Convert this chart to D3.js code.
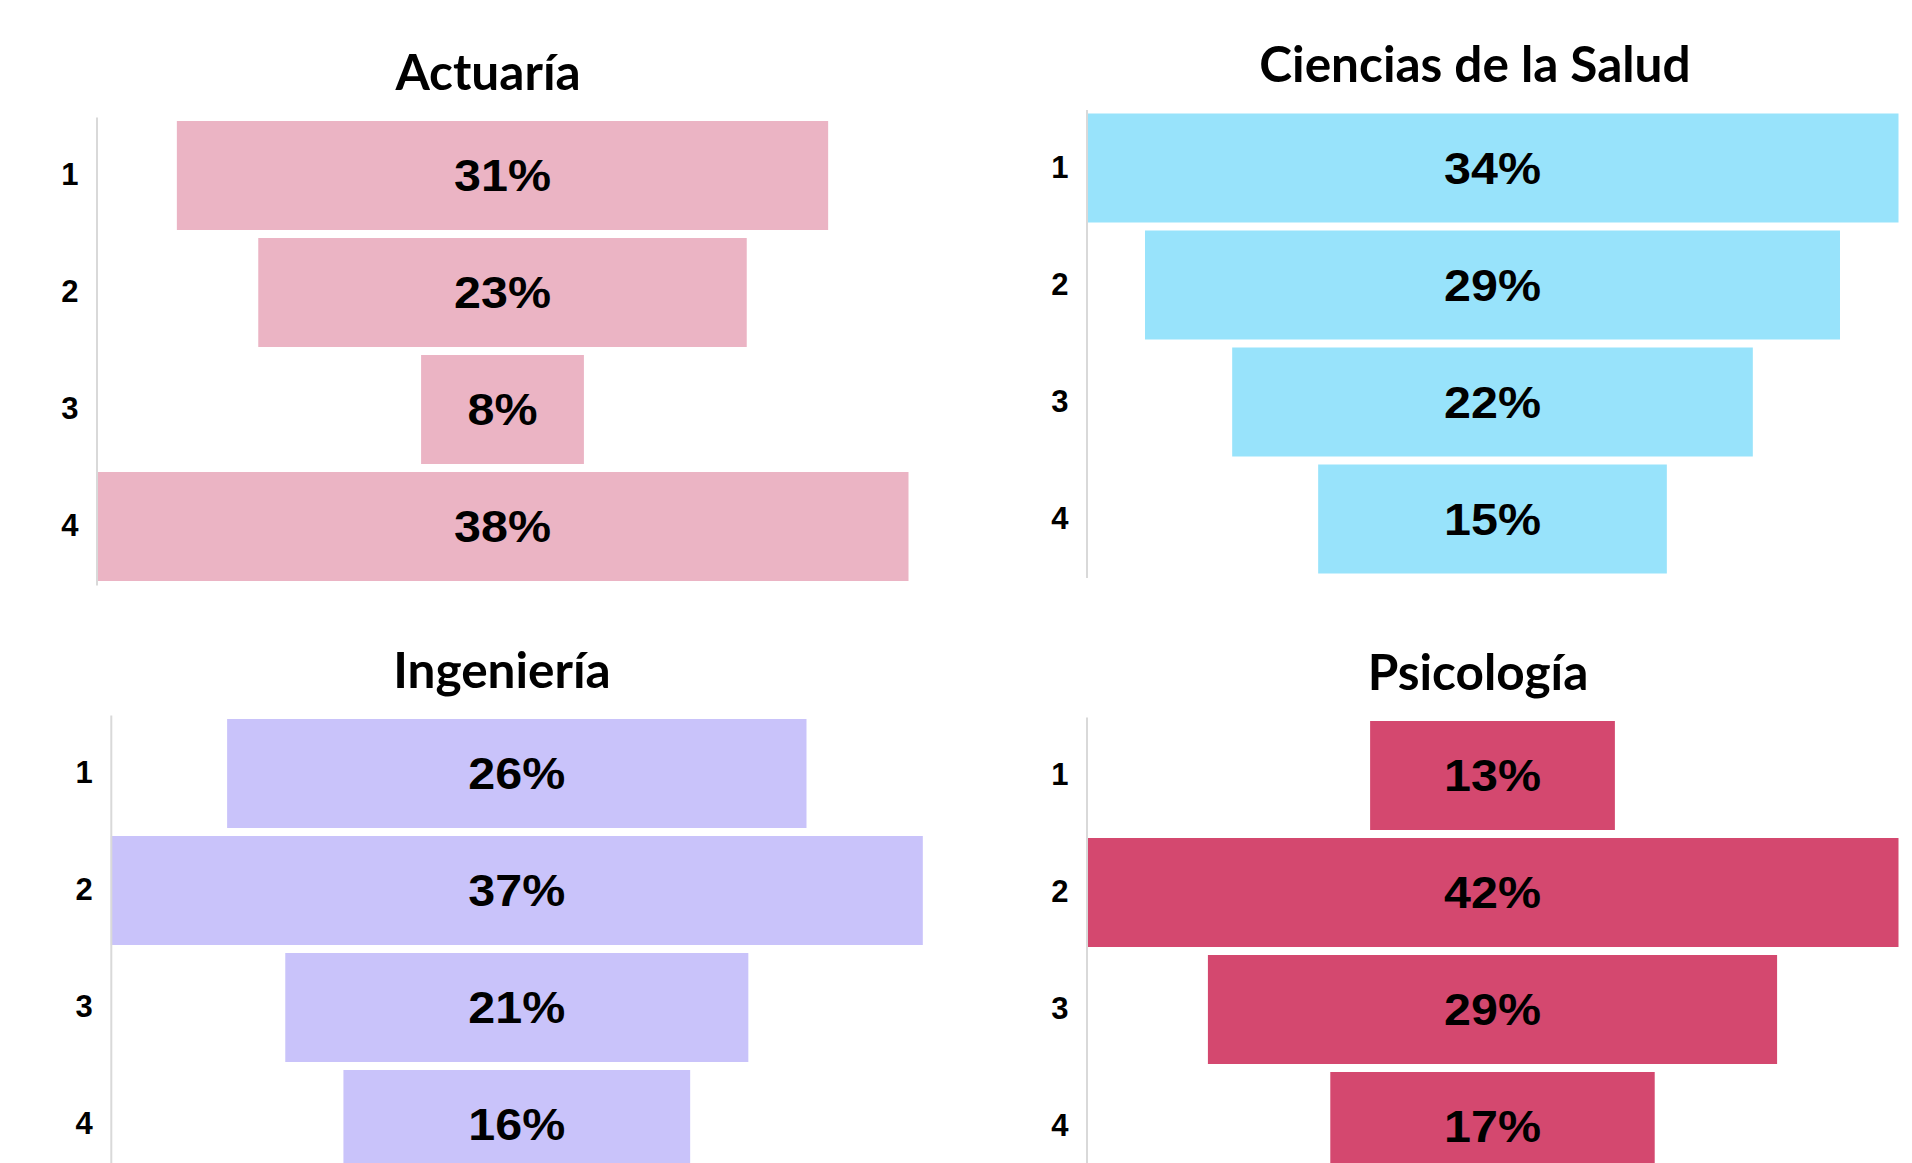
<!DOCTYPE html>
<html>
<head>
<meta charset="utf-8">
<script src="https://cdnjs.cloudflare.com/ajax/libs/d3/7.8.5/d3.min.js"></script>
<style>
  body { margin: 0; background: #fff; }
  .title { font-family: Lato, 'Open Sans', sans-serif; font-weight: 700; font-size: 49.5px; fill: #000; }
  .tick text { font-family: 'Liberation Sans', Arial, sans-serif; font-weight: 700; font-size: 31px; fill: #000; }
  .val { font-family: 'Liberation Sans', Arial, sans-serif; font-weight: 700; font-size: 44px; fill: #000; }
</style>
</head>
<body>
<div id="chart"></div>
<script>
// Funnel charts, one per career

const width = 1912
const height = 1163

// Data
const careers = ['Actuaría', 'Ciencias de la Salud', 'Ingeniería', 'Psicología']
const levels = ['1', '2', '3', '4']
const actuaria = [30.8, 23.1, 7.7, 38.4]
const salud = [34, 29.1, 21.8, 14.6]
const ingenieria = [26.4, 37, 21.1, 15.8]
const psicologia = [12.6, 41.8, 29.3, 16.7]
const palette = ['#ebb4c4', '#98e3fb', '#c9c3fa', '#d4486f']

const series = [actuaria, salud, ingenieria, psicologia]

// Where each small chart sits on the page
const layout = [
  { axisX: 96.5, top: 117, titleX: 488, titleY: 90 },
  { axisX: 1086.5, top: 109.5, titleX: 1475, titleY: 81.5 },
  { axisX: 110.8, top: 715, titleX: 502, titleY: 688 },
  { axisX: 1086.5, top: 717, titleX: 1478, titleY: 689.5 }
]
const plotW = 812
const plotH = 468

const svg = d3.select('#chart')
  .append('svg')
  .attr('width', width)
  .attr('height', height)

careers.forEach((name, k) => {
  const L = layout[k]
  const values = series[k]
  const g = svg.append('g')

  g.append('text')
    .attr('class', 'title')
    .attr('x', L.titleX)
    .attr('y', L.titleY)
    .attr('text-anchor', 'middle')
    .text(name)

  const x = d3.scaleLinear()
    .domain([0, d3.max(values)])
    .range([0, plotW])

  const y = d3.scaleBand()
    .domain(levels)
    .range([L.top, L.top + plotH])
    .paddingInner(0.0684)
    .paddingOuter(0.0342)

  const cx = L.axisX + plotW / 2

  g.selectAll('rect')
    .data(values)
    .enter().append('rect')
    .attr('x', d => cx - x(d) / 2)
    .attr('y', (d, i) => y(levels[i]))
    .attr('width', d => x(d))
    .attr('height', y.bandwidth())
    .attr('fill', palette[k])

  // value labels, slightly widened like the original
  g.selectAll('.val')
    .data(values)
    .enter().append('text')
    .attr('class', 'val')
    .attr('transform', (d, i) => `translate(${cx},${y(levels[i]) + y.bandwidth() / 2}) scale(1.1,1)`)
    .attr('dy', '0.36em')
    .attr('text-anchor', 'middle')
    .text(d => Math.round(d) + '%')

  const axis = g.append('g')
    .attr('transform', `translate(${L.axisX},0)`)
    .call(d3.axisLeft(y).tickSize(0).tickPadding(18))
  axis.select('.domain')
    .attr('stroke', '#d9d9d9')
    .attr('stroke-width', 2)
})
</script>
</body>
</html>
